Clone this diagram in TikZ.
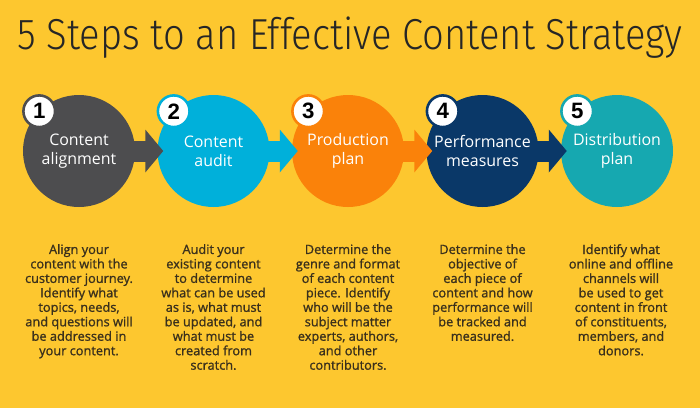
\documentclass[tikz,border=0pt]{standalone}
\usepackage{fontspec}
\setmainfont{Open Sans}
\newfontfamily\titlefont{Fira Sans Light}
\newfontfamily\bodyfont{Open Sans}[FakeBold=1.2]
\newfontfamily\numfont{Liberation Sans}
\usetikzlibrary{positioning}
\usetikzlibrary{arrows.meta}
\definecolor{bgyellow}{RGB}{253,199,47}
\definecolor{stepgray}{RGB}{77,77,79}
\definecolor{stepcyan}{RGB}{0,176,218}
\definecolor{steporange}{RGB}{250,130,10}
\definecolor{stepnavy}{RGB}{10,56,104}
\definecolor{stepteal}{RGB}{22,168,176}
\definecolor{bodyink}{RGB}{58,48,28}
\def\gap{134.5}
\def\rowy{151}

\begin{document}
\begin{tikzpicture}[x=0.03cm, y=-0.03cm,
	disc/.style={circle, minimum size=3.36cm, inner sep=0pt, text=white, align=center, font=\fontsize{13.6}{16}\selectfont},
	badge/.style={circle, fill=white, draw=#1, line width=2.2pt, minimum size=0.95cm, inner sep=0pt, font=\numfont\bfseries\fontsize{19}{19}\selectfont},
	blurb/.style={align=center, inner sep=0pt, text=bodyink, font=\bodyfont\fontsize{10.9}{12.35}\selectfont},
	flow/.style={line width=0.63cm, draw=#1, -{Triangle[width=1.26cm, length=0.54cm]}}]
	% background
	\fill[bgyellow] (0,0) rectangle (700,408);
	\useasboundingbox (0,0) rectangle (700,408);
	% title
	\node[font=\titlefont\fontsize{37}{40}\selectfont, text=black!85, inner sep=0pt] (title) at (350,38) {\resizebox{19.95cm}{\height}{5 Steps to an Effective Content Strategy}};
	% circles
	\node[disc, fill=stepgray] (align) at (79,\rowy) {Content\\alignment};
	\node[disc, fill=stepcyan] (audit) at (79+\gap,\rowy) {Content\\audit};
	\node[disc, fill=steporange] (prod) at (79+2*\gap,\rowy) {Production\\plan};
	\node[disc, fill=stepnavy] (perf) at (79+3*\gap,\rowy) {Performance\\measures};
	\node[disc, fill=stepteal] (distr) at (79+4*\gap,\rowy) {Distribution\\plan};
	% arrows
	\draw[flow=stepgray] ([xshift=-0.15cm]align.east) -- ([xshift=0.18cm]audit.west);
	\draw[flow=stepcyan] ([xshift=-0.15cm]audit.east) -- ([xshift=0.18cm]prod.west);
	\draw[flow=steporange] ([xshift=-0.15cm]prod.east) -- ([xshift=0.18cm]perf.west);
	\draw[flow=stepnavy] ([xshift=-0.15cm]perf.east) -- ([xshift=0.18cm]distr.west);
	% number badges
	\node[badge=stepgray] (n1) at (align.135) {1};
	\node[badge=stepcyan] (n2) at (audit.135) {2};
	\node[badge=steporange] (n3) at (prod.135) {3};
	\node[badge=stepnavy] (n4) at (perf.135) {4};
	\node[badge=stepteal] (n5) at (distr.135) {5};
	% descriptions
	\node[blurb, anchor=north] (t1) at (79,244) {Align your\\content with the\\customer journey.\\Identify what\\topics, needs,\\and questions will\\be addressed in\\your content.};
	\node[blurb, anchor=north] (t2) at (79+\gap,244) {Audit your\\existing content\\to determine\\what can be used\\as is, what must\\be updated, and\\what must be\\created from\\scratch.};
	\node[blurb, anchor=north] (t3) at (79+2*\gap,244) {Determine the\\genre and format\\of each content\\piece. Identify\\who will be the\\subject matter\\experts, authors,\\and other\\contributors.};
	\node[blurb, anchor=north] (t4) at (79+3*\gap,244) {Determine the\\objective of\\each piece of\\content and how\\performance will\\be tracked and\\measured.};
	\node[blurb, anchor=north] (t5) at (83+4*\gap,244) {Identify what\\online and offline\\channels will\\be used to get\\content in front\\of constituents,\\members, and\\donors.};
\end{tikzpicture}
\end{document}
